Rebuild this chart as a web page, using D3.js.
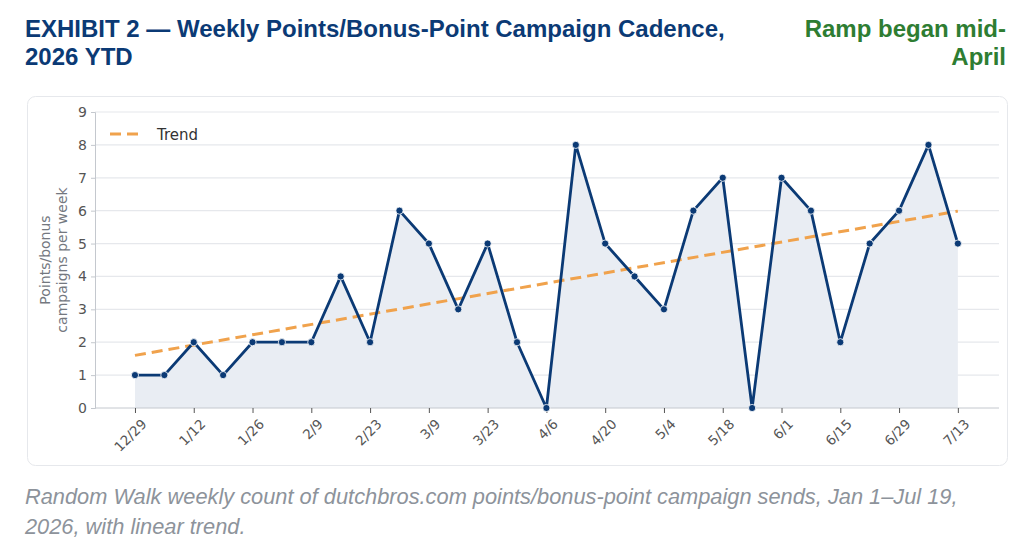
<!DOCTYPE html>
<html>
<head>
<meta charset="utf-8">
<script src="https://cdn.jsdelivr.net/npm/d3@7"></script>
<style>
  body { margin: 0; background: #fff; }
  svg { display: block; }
</style>
</head>
<body>
<script>
const width = 1024;
const height = 540;

// weekly data
const weeks = ["12/29","1/5","1/12","1/19","1/26","2/2","2/9","2/16","2/23","3/2","3/9","3/16","3/23","3/30",
  "4/6","4/13","4/20","4/27","5/4","5/11","5/18","5/25","6/1","6/8","6/15","6/22","6/29","7/6","7/13"];
const campaigns = [1,1,2,1,2,2,2,4,2,6,5,3,5,2,0,8,5,4,3,6,7,0,7,6,2,5,6,8,5];
const yTicks = [0,1,2,3,4,5,6,7,8,9];

const navy = "#0b3a75";
const orange = "#f0a24c";

const svg = d3.select("body").append("svg").attr("width", width).attr("height", height);

// titles
const title = svg.append("text")
    .attr("font-family", "Liberation Sans, Arial, sans-serif")
    .attr("font-weight", "bold")
    .attr("font-size", "24px")
    .attr("fill", "#0b3a75");
title.append("tspan").attr("x", 25).attr("y", 37).text("EXHIBIT 2 \u2014 Weekly Points/Bonus-Point Campaign Cadence,");
title.append("tspan").attr("x", 25).attr("y", 65).text("2026 YTD");

const note = svg.append("text")
    .attr("font-family", "Liberation Sans, Arial, sans-serif")
    .attr("font-weight", "bold")
    .attr("font-size", "24px")
    .attr("fill", "#2e7d32")
    .attr("text-anchor", "end");
note.append("tspan").attr("x", 1006).attr("y", 37).text("Ramp began mid-");
note.append("tspan").attr("x", 1006).attr("y", 65).text("April");

// card
svg.append("rect")
    .attr("x", 27.5).attr("y", 96.5)
    .attr("width", 980).attr("height", 369)
    .attr("rx", 8)
    .attr("fill", "#fff")
    .attr("stroke", "#e6e8ec");

// scales
const x = d3.scaleLinear().domain([-1.36, 29.4]).range([95, 999]);
const y = d3.scaleLinear().domain([0, 9]).range([408, 112]);

const g = svg.append("g");

// grid
g.selectAll(".grid")
    .data(yTicks.filter(d => d > 0))
    .enter().append("line")
    .attr("class", "grid")
    .attr("x1", x.range()[0]).attr("x2", x.range()[1])
    .attr("y1", d => y(d)).attr("y2", d => y(d))
    .attr("stroke", "#e6e8ec")
    .attr("stroke-width", 1.2);

// area
const area = d3.area()
    .x((d, i) => x(i))
    .y0(y(0))
    .y1(d => y(d));
g.append("path")
    .datum(campaigns)
    .attr("d", area)
    .attr("fill", "#e9edf3");

// axes
const yAxis = d3.axisLeft(y).tickValues(yTicks).tickSize(4).tickPadding(4);
const yg = g.append("g").attr("transform", `translate(${x.range()[0]},0)`).call(yAxis);
yg.select(".domain").attr("stroke", "#c4c8ce");
yg.selectAll(".tick line").attr("stroke", "#c4c8ce");
yg.selectAll("text")
    .attr("font-family", "DejaVu Sans, sans-serif")
    .attr("font-size", "14px")
    .attr("fill", "#555");

const tickIdx = d3.range(0, weeks.length, 2);
const xAxis = d3.axisBottom(x).tickValues(tickIdx).tickFormat(i => weeks[i]).tickSize(5).tickPadding(3);
const xg = g.append("g").attr("transform", `translate(0,${y(0)})`).call(xAxis);
xg.select(".domain").attr("stroke", "#c4c8ce").attr("d", `M${x.range()[0]},0H${x.range()[1]}`);
xg.selectAll(".tick line").attr("stroke", "#555");
xg.selectAll("text")
    .attr("font-family", "DejaVu Sans, sans-serif")
    .attr("font-size", "13.5px")
    .attr("fill", "#555")
    .attr("text-anchor", "end")
    .attr("dy", "0.35em")
    .attr("transform", "translate(3,8) rotate(-45)");

// y label
const ylab = g.append("text")
    .attr("transform", `translate(50,${(y(0) + y(9)) / 2}) rotate(-90)`)
    .attr("text-anchor", "middle")
    .attr("font-family", "DejaVu Sans, sans-serif")
    .attr("font-size", "14px")
    .attr("fill", "#74787f");
ylab.append("tspan").attr("x", 0).attr("y", 0).text("Points/bonus");
ylab.append("tspan").attr("x", 0).attr("y", 17).text("campaigns per week");

// linear trend
const xs = campaigns.map((d, i) => i);
const mx = d3.mean(xs), my = d3.mean(campaigns);
const slope = d3.sum(xs, i => (i - mx) * (campaigns[i] - my)) / d3.sum(xs, i => (i - mx) * (i - mx));
const intercept = my - slope * mx;
const last = campaigns.length - 1;
g.append("line")
    .attr("x1", x(0)).attr("y1", y(intercept))
    .attr("x2", x(last)).attr("y2", y(intercept + slope * last))
    .attr("stroke", orange)
    .attr("stroke-width", 3)
    .attr("stroke-dasharray", "11,6");

// series line
const line = d3.line().x((d, i) => x(i)).y(d => y(d));
g.append("path")
    .datum(campaigns)
    .attr("d", line)
    .attr("fill", "none")
    .attr("stroke", navy)
    .attr("stroke-width", 2.8)
    .attr("stroke-linejoin", "round");

g.selectAll(".dot")
    .data(campaigns)
    .enter().append("circle")
    .attr("class", "dot")
    .attr("cx", (d, i) => x(i))
    .attr("cy", d => y(d))
    .attr("r", 3.6)
    .attr("fill", navy)
    .attr("stroke", "#fff")
    .attr("stroke-width", 0.8);

// legend
g.append("line")
    .attr("x1", 110).attr("x2", 142)
    .attr("y1", 134).attr("y2", 134)
    .attr("stroke", orange)
    .attr("stroke-width", 3)
    .attr("stroke-dasharray", "11,6");
g.append("text")
    .attr("x", 157).attr("y", 139.5)
    .attr("font-family", "DejaVu Sans, sans-serif")
    .attr("font-size", "15px")
    .attr("fill", "#333")
    .text("Trend");

// caption
const cap = svg.append("text")
    .attr("font-family", "Liberation Sans, Arial, sans-serif")
    .attr("font-style", "italic")
    .attr("font-size", "21.8px")
    .attr("fill", "#8d939b");
cap.append("tspan").attr("x", 25).attr("y", 504).text("Random Walk weekly count of dutchbros.com points/bonus-point campaign sends, Jan 1\u2013Jul 19,");
cap.append("tspan").attr("x", 25).attr("y", 534).text("2026, with linear trend.");
</script>
</body>
</html>
